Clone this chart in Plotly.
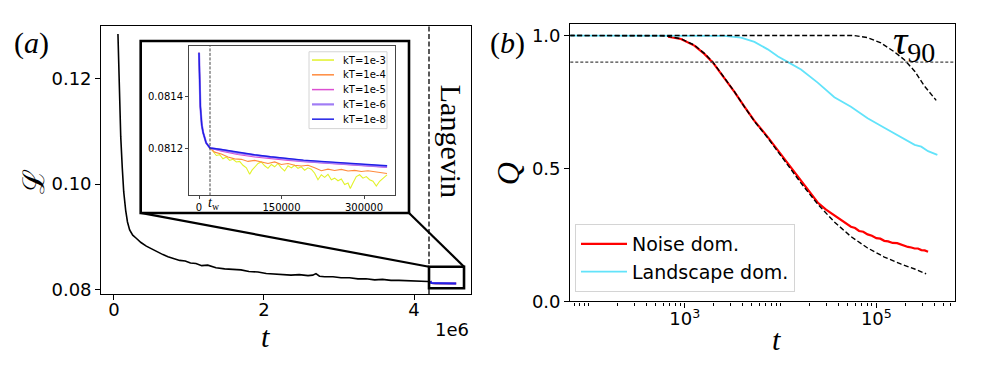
import plotly.graph_objects as go

W, H = 981, 365

# ---- panel (a): loss of the main run ----
t_main = [53000, 66000, 76000, 90000, 111000, 130000, 156000, 180000, 209000, 250000,
          297000, 360000, 431000, 520000, 600000, 653000, 720000, 800000, 876000, 950000,
          1020000, 1093000, 1170000, 1250000, 1360000, 1476000, 1580000, 1693000, 1800000, 1920000,
          2030000, 2143000, 2250000, 2360000, 2470000, 2587000, 2650000, 2693000, 2740000, 2809000,
          2920000, 3027000, 3140000, 3253000, 3360000, 3476000, 3580000, 3693000, 3800000, 3920000,
          4050000, 4187000]
L_main = [0.1285, 0.1215, 0.1153, 0.1090, 0.1030, 0.0985, 0.0950, 0.0928, 0.0913, 0.0903,
          0.0897, 0.0889, 0.0882, 0.0875, 0.0870, 0.0866, 0.0862, 0.0859, 0.0855, 0.0854,
          0.0850, 0.0849, 0.0845, 0.0846, 0.0841, 0.0839, 0.0838, 0.0837, 0.0834, 0.0833,
          0.0830, 0.0829, 0.0829, 0.0827, 0.0828, 0.0826, 0.0827, 0.0830, 0.0825, 0.0824,
          0.0824, 0.0822, 0.0822, 0.0820, 0.0820, 0.0818, 0.0819, 0.0817, 0.0817, 0.0816,
          0.0816, 0.0815]

# ---- inset: Langevin runs started at t_start ----
t_start = 4220000
t_w = 20000
t_early = [0, 1000, 2500, 5000, 7500, 13000, 20000]
L_early = [0.08157, 0.08145, 0.08136, 0.08129, 0.08126, 0.08122, 0.08120]

t_smooth = [40600, 70000, 101000, 130000, 162000, 190000, 222000, 250000, 283000, 310000, 342000]
L_kT1e8 = [0.081194, 0.081183, 0.081174, 0.081166, 0.081158, 0.081153, 0.081148, 0.081144, 0.081140, 0.081136, 0.081131]
L_kT1e6 = [0.081193, 0.081181, 0.081172, 0.081164, 0.081156, 0.081150, 0.081145, 0.081141, 0.081136, 0.081132, 0.081128]
L_kT1e5 = [0.081188, 0.081175, 0.081165, 0.081158, 0.081152, 0.081147, 0.081143, 0.081138, 0.081133, 0.081129, 0.081125]

t_kT1e4 = [28500, 40600, 52700, 64800, 77000, 89100, 101200, 113300, 125400, 137600,
           149700, 161800, 173900, 186000, 198200, 210300, 222400, 234500, 246600, 258800,
           270900, 283000, 295100, 307200, 319400, 331500, 341800]
L_kT1e4 = [0.081184, 0.081177, 0.081165, 0.081158, 0.081156, 0.081148, 0.081152, 0.081146, 0.081140, 0.081146,
           0.081136, 0.081140, 0.081133, 0.081130, 0.081133, 0.081123, 0.081112, 0.081118, 0.081113, 0.081117,
           0.081111, 0.081113, 0.081109, 0.081112, 0.081108, 0.081104, 0.081101]

t_kT1e3 = [25500, 31500, 37600, 43600, 49700, 55800, 61800, 67900, 73900, 80000,
           86100, 92100, 96400, 101200, 107300, 113300, 119400, 125400, 131500, 137600,
           143600, 149700, 155700, 161800, 167900, 173900, 180000, 186000, 192100, 198200,
           204200, 210300, 216300, 222400, 228500, 234500, 240600, 246600, 252700, 258800,
           264800, 270900, 275100, 279900, 286000, 292100, 298100, 304200, 310200, 316300,
           322400, 328400, 334500, 341800]
L_kT1e3 = [0.081184, 0.081171, 0.081174, 0.081158, 0.081165, 0.081152, 0.081156, 0.081146, 0.081148, 0.081133,
           0.081123, 0.081098, 0.081114, 0.081127, 0.081140, 0.081146, 0.081131, 0.081121, 0.081136, 0.081127,
           0.081140, 0.081123, 0.081111, 0.081131, 0.081123, 0.081133, 0.081121, 0.081127, 0.081114, 0.081123,
           0.081118, 0.081102, 0.081077, 0.081096, 0.081086, 0.081098, 0.081077, 0.081083, 0.081073, 0.081080,
           0.081058, 0.081064, 0.081043, 0.081064, 0.081089, 0.081096, 0.081083, 0.081089, 0.081077, 0.081071,
           0.081052, 0.081071, 0.081083, 0.081096]

# ---- panel (b): overlap Q(t) ----
t_noise = [670, 914, 1262, 1603, 1972, 2594, 3304,
           4198, 5346, 7362, 10990, 16370, 19950, 24430, 29850, 36480, 44670,
           54330, 60000, 66070, 73000, 81100, 90000, 100000, 110000, 121100, 133000,
           147900, 165000, 182000, 198000, 213800, 232000, 251200, 272000, 295100, 320000,
           346700]
Q_noise = [0.996, 0.987, 0.962, 0.931, 0.898, 0.840, 0.788,
           0.733, 0.679, 0.618, 0.535, 0.451, 0.410, 0.372, 0.345, 0.323, 0.300,
           0.281, 0.276, 0.265, 0.262, 0.252, 0.247, 0.238, 0.236, 0.228, 0.226,
           0.220, 0.219, 0.214, 0.208, 0.205, 0.203, 0.199, 0.199, 0.193, 0.192,
           0.187]
t_land = [63, 316, 1000, 2594, 3873, 5346, 7362, 9419, 11970, 16370,
          24430, 36480, 54330, 81100, 121100, 182000, 251200, 294400, 346700, 433500]
Q_land = [1.0, 1.0, 1.0, 0.999, 0.992, 0.976, 0.948, 0.921, 0.900, 0.872,
          0.823, 0.768, 0.732, 0.689, 0.653, 0.616, 0.589, 0.582, 0.565, 0.551]
t_fit1 = [63, 316, 525, 670, 914, 1262, 1603, 1972, 2594, 3304, 4198, 5346,
          7362, 10990, 16370, 24430, 36480, 54330, 81100, 121100, 182000, 251200, 331100]
Q_fit1 = [1.0, 1.0, 0.999, 0.997, 0.988, 0.964, 0.933, 0.900, 0.842, 0.789, 0.732, 0.677,
          0.615, 0.531, 0.445, 0.366, 0.299, 0.244, 0.201, 0.167, 0.140, 0.122, 0.104]
t_fit2 = [63, 1000, 10000, 58880, 81100, 111700, 153800, 195900, 251200, 316200, 421700]
Q_fit2 = [1.0, 1.0, 1.0, 1.0, 0.992, 0.972, 0.939, 0.909, 0.866, 0.811, 0.756]
Q_threshold = 0.9

kT_names = ["kT=1e-3", "kT=1e-4", "kT=1e-5", "kT=1e-6", "kT=1e-8"]
kT_colors = ["#e2f22a", "#ff8a3d", "#dc4fd2", "#a07cf5", "#1f1fe6"]
kT_widths = [1.1, 1.1, 1.1, 2.2, 1.4]


def px(x):
    return x / W


def py(y):
    return 1 - y / H


# axes geometry (pixels of the target picture)
a_dom_x = [px(93.3), px(463.3)]
a_dom_y = [py(294), py(18.3)]
a_range_x = [-169000, 4764000]
a_range_y = [0.07913, 0.13005]
zoom_x = [4200000, 4667000]
zoom_y = [0.0802, 0.0843]


def a_paper(t, L):
    fx = (t - a_range_x[0]) / (a_range_x[1] - a_range_x[0])
    fy = (L - a_range_y[0]) / (a_range_y[1] - a_range_y[0])
    return (a_dom_x[0] + fx * (a_dom_x[1] - a_dom_x[0]),
            a_dom_y[0] + fy * (a_dom_y[1] - a_dom_y[0]))


inset_series = [
    (t_early + t_kT1e3, L_early + L_kT1e3),
    (t_early + t_kT1e4, L_early + L_kT1e4),
    (t_early + t_smooth, L_early + L_kT1e5),
    (t_early + t_smooth, L_early + L_kT1e6),
    (t_early + t_smooth, L_early + L_kT1e8),
]

fig = go.Figure()

fig.add_trace(go.Scatter(x=t_main, y=L_main, mode="lines", line=dict(color="black", width=1.6),
                         showlegend=False, xaxis="x", yaxis="y"))
for (tt, LL), name, col, lw in zip(inset_series, kT_names, kT_colors, kT_widths):
    fig.add_trace(go.Scatter(x=[t_start + v for v in tt], y=LL, mode="lines",
                             line=dict(color=col, width=2), showlegend=False, xaxis="x", yaxis="y"))
for (tt, LL), name, col, lw in zip(inset_series, kT_names, kT_colors, kT_widths):
    fig.add_trace(go.Scatter(x=tt, y=LL, mode="lines", name=name, line=dict(color=col, width=lw),
                             xaxis="x2", yaxis="y2", showlegend=False))

fig.add_trace(go.Scatter(x=t_noise, y=Q_noise, mode="lines", name="Noise dom.",
                         line=dict(color="#ff0000", width=2.2), xaxis="x3", yaxis="y3"))
fig.add_trace(go.Scatter(x=t_land, y=Q_land, mode="lines", name="Landscape dom.",
                         line=dict(color="#62e3fa", width=1.8), xaxis="x3", yaxis="y3"))
for tt, QQ in [(t_fit1, Q_fit1), (t_fit2, Q_fit2)]:
    fig.add_trace(go.Scatter(x=tt, y=QQ, mode="lines", showlegend=False,
                             line=dict(color="black", width=1.4, dash="5px,2.5px"),
                             xaxis="x3", yaxis="y3"))

tickfont = dict(family="DejaVu Sans", size=18, color="black")
small = dict(family="DejaVu Sans", size=10, color="black")
ax_common = dict(showline=True, mirror=True, linecolor="black", linewidth=1.3, ticks="outside",
                 ticklen=5, tickwidth=1.3, tickcolor="black", showgrid=False, zeroline=False,
                 tickfont=tickfont)
inset_common = dict(showline=True, mirror=True, linecolor="#444", linewidth=1, ticks="outside",
                    ticklen=3, tickwidth=1, tickcolor="#444", showgrid=False, zeroline=False,
                    tickfont=small)

minor_vals = [m * 10 ** k for k in range(1, 6) for m in range(2, 10)] + [100, 10000]

fig.update_layout(
    width=W, height=H, autosize=False,
    margin=dict(l=0, r=0, t=0, b=0),
    paper_bgcolor="white", plot_bgcolor="white",
    xaxis=dict(domain=a_dom_x, range=a_range_x, tickvals=[0, 2000000, 4000000],
               ticktext=["0", "2", "4"], anchor="y", ticklabelstandoff=-6, **ax_common),
    yaxis=dict(domain=a_dom_y, range=a_range_y, tickvals=[0.08, 0.10, 0.12],
               ticktext=["0.08", "0.10", "0.12"], anchor="x", **ax_common),
    xaxis2=dict(domain=[px(181), px(387.3)], range=[-18180, 356900], tickvals=[0, 150000, 300000],
                ticktext=["0", "150000", "300000"], anchor="y2", **inset_common),
    yaxis2=dict(domain=[py(192.7), py(39.3)], range=[0.081016, 0.081595], tickvals=[0.0812, 0.0814],
                ticktext=["0.0812", "0.0814"], anchor="x2", **inset_common),
    xaxis3=dict(type="log", domain=[px(562.3), px(946.7)], range=[1.806, 5.818],
                tickvals=[1000, 100000], ticktext=["10<sup>3</sup>", "10<sup>5</sup>"], anchor="y3",
                ticklabelstandoff=-4,
                minor=dict(tickvals=minor_vals, ticks="outside", ticklen=3, tickwidth=1, tickcolor="black"),
                **ax_common),
    yaxis3=dict(domain=[py(301.7), py(16)], range=[0, 1.045], tickvals=[0, 0.5, 1.0],
                ticktext=["0.0", "0.5", "1.0"], anchor="x3", **ax_common),
    legend=dict(x=px(567), y=py(292), xanchor="left", yanchor="bottom", bgcolor="white",
                bordercolor="#d4d4d4", borderwidth=1, font=dict(family="DejaVu Sans", size=19, color="black"),
                tracegroupgap=0, itemwidth=46),
)

# inset frame, zoom box and the connecting lines
zx0, zy1 = a_paper(zoom_x[0], zoom_y[1])
zx1, _ = a_paper(zoom_x[1], zoom_y[1])
frame = dict(x0=px(132.7), x1=px(401), y0=py(210.7), y1=py(34))
fig.add_shape(type="rect", xref="paper", yref="paper", **frame, line=dict(color="black", width=2.6))
fig.add_shape(type="rect", xref="x", yref="y", x0=zoom_x[0], x1=zoom_x[1], y0=zoom_y[0], y1=zoom_y[1],
              line=dict(color="black", width=2.6))
fig.add_shape(type="line", xref="paper", yref="paper", x0=frame["x0"], y0=frame["y0"], x1=zx0, y1=zy1,
              line=dict(color="black", width=2.2))
fig.add_shape(type="line", xref="paper", yref="paper", x0=frame["x1"], y0=frame["y0"], x1=zx1, y1=zy1,
              line=dict(color="black", width=2.2))
fig.add_shape(type="line", xref="x", yref="y domain", x0=zoom_x[0], x1=zoom_x[0], y0=0, y1=1,
              line=dict(color="black", width=1.3, dash="5px,2.5px"))
fig.add_shape(type="line", xref="x2", yref="y2 domain", x0=t_w, x1=t_w, y0=0, y1=1,
              line=dict(color="#444", width=1, dash="3px,1.5px"))
fig.add_shape(type="line", xref="x3 domain", yref="y3", x0=0, x1=1, y0=Q_threshold, y1=Q_threshold,
              line=dict(color="#444", width=1.3, dash="3px,2px"))

# inset legend, drawn by hand so the rows can sit as tightly as in the original
fig.add_shape(type="rect", xref="paper", yref="paper", x0=px(301), x1=px(379), y0=py(124), y1=py(45),
              fillcolor="white", line=dict(color="#d4d4d4", width=1), layer="above")
for i, (name, col, lw) in enumerate(zip(kT_names, kT_colors, kT_widths)):
    yrow = 53.5 + 15.2 * i
    fig.add_shape(type="line", xref="paper", yref="paper", x0=px(304), x1=px(326), y0=py(yrow), y1=py(yrow),
                  line=dict(color=col, width=max(lw, 1.5)), layer="above")
    fig.add_annotation(text=name, x=px(333), y=py(yrow), xref="paper", yref="paper", showarrow=False,
                       xanchor="left", yanchor="middle", font=small)

serif = "Liberation Serif"


def note(text, x, y, size, angle=0, family=serif, xanchor="center"):
    fig.add_annotation(text=text, x=px(x), y=py(y), xref="paper", yref="paper", showarrow=False,
                       textangle=angle, xanchor=xanchor, yanchor="middle",
                       font=dict(family=family, size=size, color="black"))


note("(<i>a</i>)", 23, 36, 30)
note("(<i>b</i>)", 499, 36, 30)
note("ℒ", 25, 179, 30, angle=-90, family="DejaVu Serif")
note("<i>Q</i>", 500, 170, 32, angle=-90)
note("<i>t</i>", 257, 338, 30)
note("<i>t</i>", 768, 341, 30)
note("1e6", 463, 331, 18, family="DejaVu Sans", xanchor="right")
note("Langevin", 443.5, 137, 30, angle=90)
note("<i>τ</i><sub>90</sub>", 906, 36, 40)
note("<i>t</i><sub>w</sub>", 206, 201, 14)

fig.write_html("out.html")
